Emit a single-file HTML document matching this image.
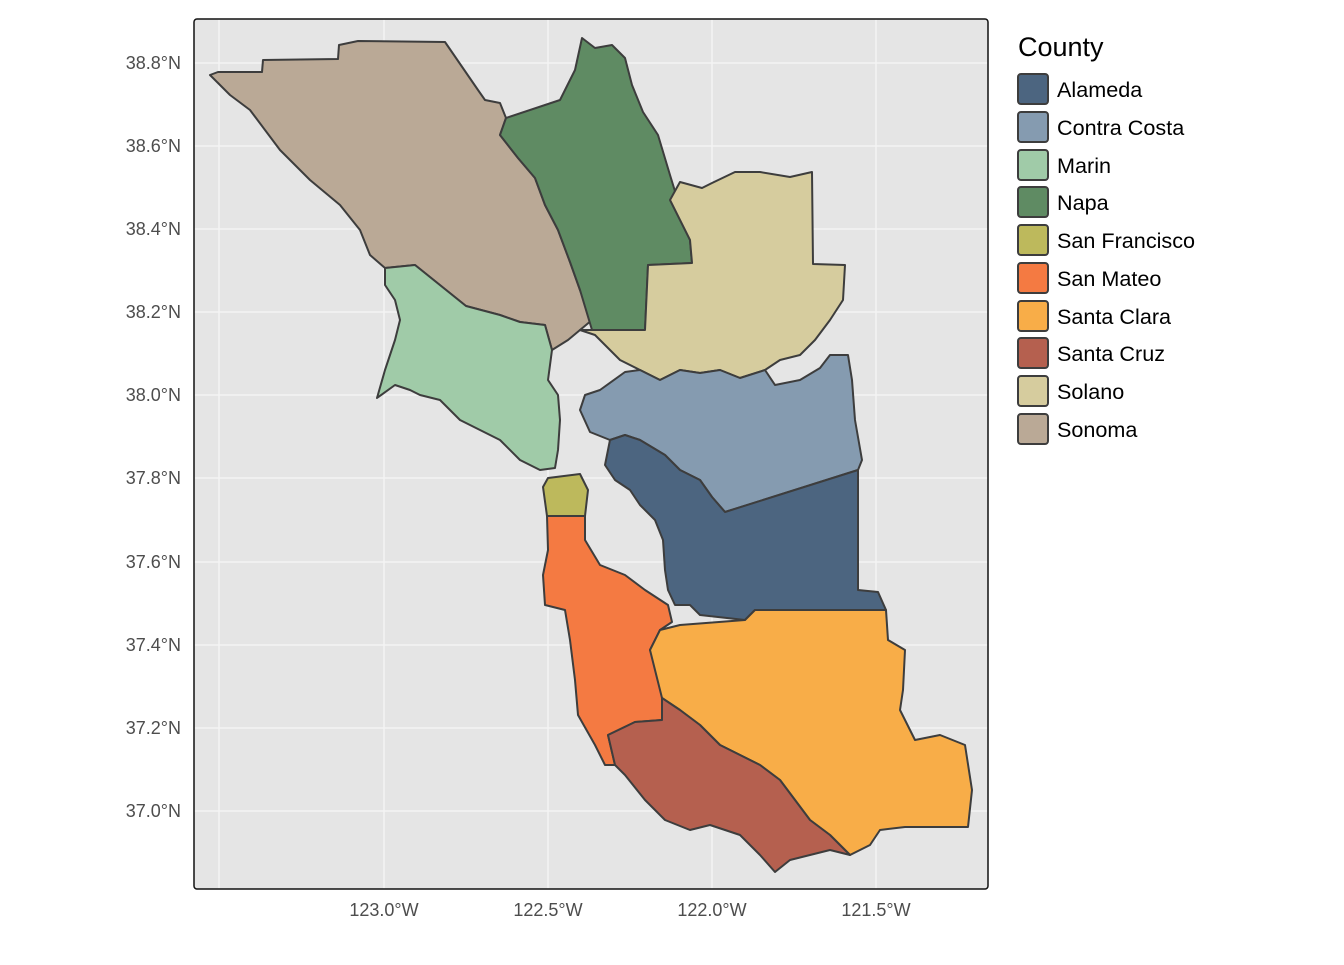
<!DOCTYPE html>
<html><head><meta charset="utf-8"><style>
body{margin:0;background:#fff;width:1344px;height:960px;overflow:hidden;font-family:"Liberation Sans",sans-serif}
</style></head><body>
<svg width="1344" height="960" xmlns="http://www.w3.org/2000/svg" font-family="Liberation Sans, sans-serif">
<rect x="194" y="19" width="794" height="870" fill="#e5e5e5"/>
<g stroke="#f4f4f4" stroke-width="1.5">
<line x1="219" y1="19" x2="219" y2="889"/><line x1="384" y1="19" x2="384" y2="889"/><line x1="548" y1="19" x2="548" y2="889"/><line x1="712" y1="19" x2="712" y2="889"/><line x1="876" y1="19" x2="876" y2="889"/>
<line x1="194" y1="63" x2="988" y2="63"/><line x1="194" y1="146" x2="988" y2="146"/><line x1="194" y1="229" x2="988" y2="229"/><line x1="194" y1="312" x2="988" y2="312"/><line x1="194" y1="395" x2="988" y2="395"/><line x1="194" y1="478" x2="988" y2="478"/><line x1="194" y1="562" x2="988" y2="562"/><line x1="194" y1="645" x2="988" y2="645"/><line x1="194" y1="728" x2="988" y2="728"/><line x1="194" y1="811" x2="988" y2="811"/>
</g>
<g stroke="#3d3d3d" stroke-width="2" stroke-linejoin="round">
<polygon fill="#BAA996" points="210,75 218,72 262,72 263,60 338,59 339,45 358,41 445,42 478,90 485,100 500,103 506,118 500,135 518,158 535,178 545,205 558,230 570,262 580,290 592,320 580,330 568,340 552,350 545,325 520,322 500,315 466,306 415,265 385,268 370,255 360,230 340,205 310,180 280,150 250,110 230,95"/>
<polygon fill="#5F8B63" points="506,118 560,100 575,70 582,38 595,48 612,45 625,58 632,85 643,112 658,135 670,175 690,240 692,263 648,265 645,330 592,330 580,290 570,262 558,230 545,205 535,178 518,158 500,135"/>
<polygon fill="#D6CC9E" points="680,182 702,188 712,183 735,172 760,172 790,177 812,172 813,264 845,265 843,300 830,320 815,340 800,355 780,360 765,370 740,378 720,370 700,373 680,370 660,380 640,370 620,360 605,345 595,335 580,330 592,330 645,330 648,265 692,263 690,240 670,200"/>
<polygon fill="#A0CBA8" points="385,268 415,265 466,306 500,315 520,322 545,325 552,350 548,380 558,395 560,420 558,450 555,468 540,470 520,460 500,440 480,430 460,420 440,400 420,395 410,390 395,385 377,398 385,370 395,340 400,320 395,300 385,285"/>
<polygon fill="#859BB0" points="585,395 600,390 625,372 640,370 660,380 680,370 700,373 720,370 740,378 765,370 775,385 800,380 820,368 830,355 848,355 852,380 855,420 862,460 858,470 725,512 712,497 700,480 680,470 665,455 640,440 625,435 610,440 590,432 580,410"/>
<polygon fill="#4C6580" points="610,440 625,435 640,440 665,455 680,470 700,480 712,497 725,512 858,470 858,590 878,592 886,610 755,610 745,620 700,615 690,605 675,605 668,590 665,570 663,540 655,520 640,505 630,490 615,480 605,465"/>
<polygon fill="#BDB95C" points="543,487 548,478 580,474 588,490 585,516 547,516"/>
<polygon fill="#F47A42" points="547,516 585,516 585,540 600,565 625,575 645,590 668,605 672,622 660,630 650,650 662,680 662,720 635,722 608,735 615,765 605,765 595,745 578,715 575,680 570,640 565,610 545,605 543,575 548,550"/>
<polygon fill="#F8AD48" points="660,630 680,625 745,620 755,610 886,610 888,640 905,650 903,690 900,710 915,740 940,735 965,745 972,790 968,827 905,827 880,830 870,845 850,855 830,835 810,820 795,800 780,780 760,765 720,745 700,725 680,710 662,698 650,650"/>
<polygon fill="#B5604F" points="608,735 635,722 662,720 662,698 680,710 700,725 720,745 760,765 780,780 795,800 810,820 830,835 850,855 830,850 810,855 790,860 775,872 760,855 740,835 710,825 690,830 665,820 645,800 625,775 615,765"/>
</g>
<rect x="194" y="19" width="794" height="870" fill="none" stroke="#111" stroke-width="1.5" rx="3"/>
<g font-size="18" fill="#4d4d4d" text-anchor="end">
<text x="181" y="69">38.8°N</text><text x="181" y="152">38.6°N</text><text x="181" y="235">38.4°N</text><text x="181" y="318">38.2°N</text><text x="181" y="401">38.0°N</text><text x="181" y="484">37.8°N</text><text x="181" y="568">37.6°N</text><text x="181" y="651">37.4°N</text><text x="181" y="734">37.2°N</text><text x="181" y="817">37.0°N</text>
</g>
<g font-size="18" fill="#4d4d4d" text-anchor="middle">
<text x="384" y="916">123.0°W</text><text x="548" y="916">122.5°W</text><text x="712" y="916">122.0°W</text><text x="876" y="916">121.5°W</text>
</g>
<text x="1018" y="56" font-size="27" fill="#000">County</text>
<g stroke="#3d3d3d" stroke-width="2">
<rect x="1018" y="74" width="30" height="30" rx="3" fill="#4C6580"/>
<rect x="1018" y="112" width="30" height="30" rx="3" fill="#859BB0"/>
<rect x="1018" y="150" width="30" height="30" rx="3" fill="#A0CBA8"/>
<rect x="1018" y="187" width="30" height="30" rx="3" fill="#5F8B63"/>
<rect x="1018" y="225" width="30" height="30" rx="3" fill="#BDB95C"/>
<rect x="1018" y="263" width="30" height="30" rx="3" fill="#F47A42"/>
<rect x="1018" y="301" width="30" height="30" rx="3" fill="#F8AD48"/>
<rect x="1018" y="338" width="30" height="30" rx="3" fill="#B5604F"/>
<rect x="1018" y="376" width="30" height="30" rx="3" fill="#D6CC9E"/>
<rect x="1018" y="414" width="30" height="30" rx="3" fill="#BAA996"/>
</g>
<g font-size="21.6" fill="#000">
<text x="1057" y="97">Alameda</text><text x="1057" y="135">Contra Costa</text><text x="1057" y="173">Marin</text><text x="1057" y="210">Napa</text><text x="1057" y="248">San Francisco</text><text x="1057" y="286">San Mateo</text><text x="1057" y="324">Santa Clara</text><text x="1057" y="361">Santa Cruz</text><text x="1057" y="399">Solano</text><text x="1057" y="437">Sonoma</text>
</g>
</svg>
</body></html>
